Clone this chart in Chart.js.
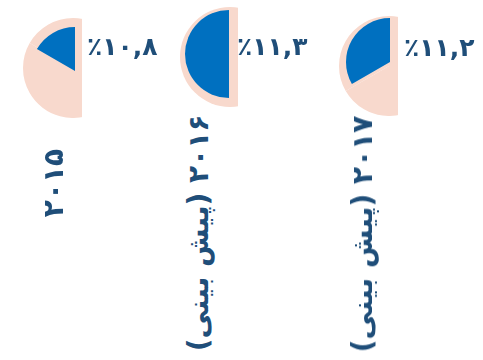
<!DOCTYPE html>
<html lang="fa">
<head>
<meta charset="utf-8">
<script src="https://cdn.jsdelivr.net/npm/chart.js@4.4.0/dist/chart.umd.min.js"></script>
<style>
  body { margin: 0; background: #fff; }
  #stage { position: relative; width: 483px; height: 360px; overflow: hidden;
           font-family: "DejaVu Sans", sans-serif; color: #1f4e79; }
  .clip { position: absolute; overflow: hidden; }
  .clip canvas { position: absolute; left: 0; top: 0; }
  .wedge { position: absolute; }
  .pct { position: absolute; font-weight: bold; font-size: 25px; white-space: nowrap;
         transform: translateY(-50%); line-height: 1; }
  .year { position: absolute; width: 0; height: 0; }
  .year span { position: absolute; left: 0; top: 0; white-space: nowrap; font-weight: bold;
               font-size: 28px; line-height: 1; direction: rtl;
               transform: translate(-50%, -50%) rotate(-90deg); }
</style>
</head>
<body>
<div id="stage"></div>
<script>
// data
const years = ["۲۰۱۵", "۲۰۱۶ (پیش بینی)", "۲۰۱۷ (پیش بینی)"];
const shareValues = [10.8, 11.3, 11.2];      // percent, shown as labels
const wedgeDegrees = [60, 180, 120];         // size of the blue wedge as drawn

// layout (pixels)
const discCenters = [[73, 68], [230, 57], [389, 66]];
const discCut = [9, 8, 9];                   // straight edge, right of the centre
const discRadius = 50;
const wedgeCenters = [[75, 71], [229, 54], [390, 62]];
const wedgeRadius = 44;
const pctPos = [[87, 46], [237, 46], [404, 47]];
const yearPos = [[54, 183], [199, 233], [363, 234]];

const SALMON = "#f8d9cd";
const BLUE = "#0070c0";

const stage = document.getElementById("stage");

function toPersian(v) {
  const digits = "۰۱۲۳۴۵۶۷۸۹";
  return v.toFixed(1).replace(".", ",").replace(/[0-9]/g, (d) => digits[+d]);
}

function pieOptions() {
  return {
    responsive: false,
    animation: false,
    events: [],
    plugins: { legend: { display: false }, tooltip: { enabled: false } },
  };
}

for (let i = 0; i < years.length; i++) {
  // salmon disc, cut straight on the right
  const clip = document.createElement("div");
  clip.className = "clip";
  clip.style.left = discCenters[i][0] - discRadius + "px";
  clip.style.top = discCenters[i][1] - discRadius + "px";
  clip.style.width = discRadius + discCut[i] + "px";
  clip.style.height = discRadius * 2 + "px";
  const disc = document.createElement("canvas");
  disc.width = discRadius * 2;
  disc.height = discRadius * 2;
  clip.appendChild(disc);
  stage.appendChild(clip);
  new Chart(disc, {
    type: "pie",
    data: {
      labels: ["rest", years[i]],
      datasets: [{
        data: [360 - wedgeDegrees[i], wedgeDegrees[i]],
        backgroundColor: [SALMON, SALMON],
        borderWidth: 0,
      }],
    },
    options: pieOptions(),
  });

  // blue wedge, counter-clockwise from 12 o'clock
  const wedge = document.createElement("canvas");
  wedge.className = "wedge";
  wedge.width = wedgeRadius * 2;
  wedge.height = wedgeRadius * 2;
  wedge.style.left = wedgeCenters[i][0] - wedgeRadius + "px";
  wedge.style.top = wedgeCenters[i][1] - wedgeRadius + "px";
  stage.appendChild(wedge);
  new Chart(wedge, {
    type: "pie",
    data: {
      labels: ["rest", years[i]],
      datasets: [{
        data: [360 - wedgeDegrees[i], wedgeDegrees[i]],
        backgroundColor: ["rgba(0,0,0,0)", BLUE],
        borderWidth: 0,
      }],
    },
    options: pieOptions(),
  });

  const pct = document.createElement("div");
  pct.className = "pct";
  pct.textContent = "٪" + toPersian(shareValues[i]);
  pct.style.left = pctPos[i][0] + "px";
  pct.style.top = pctPos[i][1] + "px";
  stage.appendChild(pct);

  const year = document.createElement("div");
  year.className = "year";
  year.style.left = yearPos[i][0] + "px";
  year.style.top = yearPos[i][1] + "px";
  const span = document.createElement("span");
  span.textContent = years[i];
  year.appendChild(span);
  stage.appendChild(year);
}
</script>
</body>
</html>
